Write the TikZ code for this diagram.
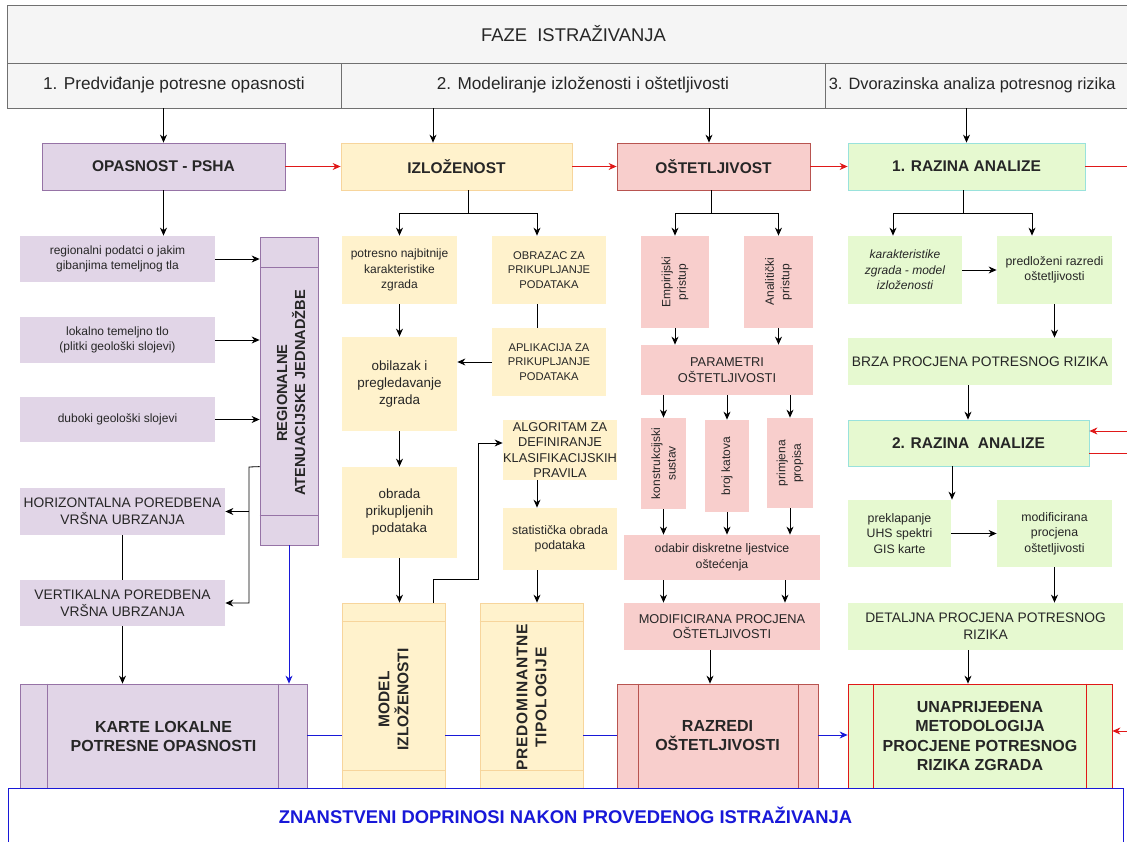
\documentclass[tikz,border=0pt]{standalone}
\usepackage{fontspec}
\setmainfont{Liberation Sans}
\usetikzlibrary{arrows.meta,calc}
\definecolor{hdrF}{HTML}{F5F5F5}
\definecolor{hdrD}{HTML}{707070}
\definecolor{purF}{HTML}{E1D5E7}
\definecolor{purD}{HTML}{9673A6}
\definecolor{yelF}{HTML}{FFF2CC}
\definecolor{yelD}{HTML}{F7D59C}
\definecolor{pnkF}{HTML}{F8CECC}
\definecolor{pnkD}{HTML}{B85450}
\definecolor{grnF}{HTML}{E6F9D0}
\definecolor{grnD}{HTML}{99E2DC}
\definecolor{redL}{HTML}{E01818}
\definecolor{bluL}{HTML}{1818D8}
\definecolor{txt}{HTML}{262626}
\newcommand{\bx}[7]{\node[box,#2,minimum width={(#5)-(#3)},minimum height={(#6)-(#4)}] (#1) at ({((#3)+(#5))/2},{((#4)+(#6))/2}) {#7};}
\tikzset{
  box/.style={inner sep=0pt, align=center, text=txt, line width=0.8pt, rectangle},
  hdr/.style={draw=hdrD, fill=hdrF},
  pur/.style={fill=purF}, purB/.style={fill=purF, draw=purD},
  yel/.style={fill=yelF}, yelB/.style={fill=yelF, draw=yelD},
  pnk/.style={fill=pnkF}, pnkB/.style={fill=pnkF, draw=pnkD},
  grn/.style={fill=grnF}, grnB/.style={fill=grnF, draw=grnD}, grnR/.style={fill=grnF, draw=redL},
  f105/.style={font=\fontsize{11.2}{14.5}\selectfont},
  f11/.style={font=\fontsize{12}{15.5}\selectfont},
  f115/.style={font=\fontsize{12.3}{15.5}\selectfont},
  f12/.style={font=\fontsize{12.8}{15.5}\selectfont},
  f125/.style={font=\fontsize{13.4}{17}\selectfont},
  f13/.style={font=\fontsize{13.8}{17}\selectfont},
  f15/.style={font=\fontsize{17.2}{20}\selectfont},
  f16/.style={font=\fontsize{18.4}{21}\selectfont},
  b14/.style={font=\bfseries\fontsize{15.5}{19}\selectfont},
  b16/.style={font=\bfseries\fontsize{16}{19}\selectfont},
  b15/.style={font=\bfseries\fontsize{16}{19.5}\selectfont},
  brot/.style={font=\bfseries\fontsize{14.6}{18}\selectfont},
  rot/.style={rotate=90, align=center, inner sep=0pt, text=txt},
  ln/.style={draw=black, line width=0.8pt},
  arr/.style={ln, -{Stealth[length=8pt,width=7pt]}},
  redln/.style={draw=redL, line width=0.8pt},
  redarr/.style={redln, -{Stealth[length=8pt,width=7pt]}},
  bluln/.style={draw=bluL, line width=0.8pt},
  bluarr/.style={bluln, -{Stealth[length=8pt,width=7pt]}},
}
\begin{document}
\begin{tikzpicture}[x=1pt,y=-1pt]
\useasboundingbox (0,0) rectangle (1127,842);
\clip (0,0) rectangle (1127,842);
\fill[white] (0,0) rectangle (1127,842);
% header
\bx{faze}{hdr,f16}{7}{5}{1140}{63}{FAZE\ \ ISTRAŽIVANJA}
\bx{ph1}{hdr,f15}{7}{63}{341}{108}{1. Predviđanje potresne opasnosti}
\bx{ph2}{hdr,f15}{341}{63}{825}{108}{2. Modeliranje izloženosti i oštetljivosti}
\bx{ph3}{hdr,f15}{825}{63}{1140}{108}{}
\node[font=\fontsize{16.4}{20}\selectfont, anchor=west, text=txt, inner sep=0pt] (ph3T) at ([xshift=4pt]ph3.west) {3. Dvorazinska analiza potresnog rizika};
% main row
\bx{opas}{purB,b14}{42}{143}{285}{190}{OPASNOST - PSHA}
\bx{izl}{yelB,b14}{341}{143}{572}{190}{IZLOŽENOST}
\bx{ost}{pnkB,b14}{617}{143}{810}{190}{OŠTETLJIVOST}
\bx{raz1}{grnB,b14}{848}{143}{1085}{190}{1. RAZINA ANALIZE}
% left column
\bx{reg}{pur,f11}{20}{236}{215}{282}{regionalni podatci o jakim\\gibanjima temeljnog tla}
\bx{lok}{pur,f11}{20}{317}{215}{363}{lokalno temeljno tlo\\(plitki geološki slojevi)}
\bx{dub}{pur,f11}{20}{397}{215}{442}{duboki geološki slojevi}
\bx{aten}{purB}{260}{237}{318}{545}{}
\draw[draw=purD, line width=0.8pt] ($(aten.north west)+(0,31)$) -- ($(aten.north east)+(0,31)$) ($(aten.south west)+(0,-30)$) -- ($(aten.south east)+(0,-30)$);
\node[rot, brot] (atenT) at ([xshift=2pt,yshift=-2pt]aten.center) {REGIONALNE\\ATENUACIJSKE JEDNADŽBE};
\bx{hor}{pur,f13}{20}{488}{225}{535}{HORIZONTALNA POREDBENA\\VRŠNA UBRZANJA}
\bx{ver}{pur,f13}{20}{580}{225}{626}{VERTIKALNA POREDBENA\\VRŠNA UBRZANJA}
\bx{karte}{purB,b16}{20}{684}{307}{788}{KARTE LOKALNE\\POTRESNE OPASNOSTI}
\draw[draw=purD, line width=0.8pt] ($(karte.north west)+(28,0)$) -- ($(karte.south west)+(28,0)$) ($(karte.north east)+(-29,0)$) -- ($(karte.south east)+(-29,0)$);
% middle column
\bx{potr}{yel,f11}{342}{236}{457}{304}{potresno najbitnije\\karakteristike\\zgrada}
\bx{obr}{yel,f105}{492}{236}{606}{304}{OBRAZAC ZA\\PRIKUPLJANJE\\PODATAKA}
\bx{obil}{yel,f125}{342}{337}{457}{431}{obilazak i\\pregledavanje\\zgrada}
\bx{apl}{yel,f105}{492}{328}{606}{396}{APLIKACIJA ZA\\PRIKUPLJANJE\\PODATAKA}
\bx{obrada}{yel,f125}{342}{467}{457}{558}{obrada\\prikupljenih\\podataka}
\bx{alg}{yel,f12}{503}{420}{617}{480}{ALGORITAM ZA\\DEFINIRANJE\\KLASIFIKACIJSKIH\\PRAVILA}
\bx{stat}{yel,f115}{503}{508}{617}{570}{statistička obrada\\podataka}
\bx{model}{yelB}{342}{603}{445}{788}{}
\draw[draw=yelD, line width=0.8pt] ($(model.north west)+(0,19)$) -- ($(model.north east)+(0,19)$) ($(model.south west)+(0,-18)$) -- ($(model.south east)+(0,-18)$);
\node[rot, font=\bfseries\fontsize{15.5}{19}\selectfont] (modelT) at ([yshift=-4pt]model.center) {MODEL\\IZLOŽENOSTI};
\bx{pred}{yelB}{480}{603}{583}{788}{}
\draw[draw=yelD, line width=0.8pt] ($(pred.north west)+(0,19)$) -- ($(pred.north east)+(0,19)$) ($(pred.south west)+(0,-18)$) -- ($(pred.south east)+(0,-18)$);
\node[rot, font=\bfseries\fontsize{15.5}{19}\selectfont\addfontfeature{LetterSpace=5}] (predT) at ([yshift=-2pt]pred.center) {PREDOMINANTNE\\TIPOLOGIJE};
% ostetljivost column
\bx{emp}{pnk}{641}{236}{709}{328}{}
\node[rot, f11] (empT) at (emp.center) {Empirijski\\pristup};
\bx{ana}{pnk}{744}{236}{813}{328}{}
\node[rot, f11] (anaT) at (ana.center) {Analitički\\pristup};
\bx{par}{pnk,f12}{641}{345}{813}{395}{PARAMETRI\\OŠTETLJIVOSTI}
\bx{kon}{pnk}{641}{418}{686}{509}{}
\node[rot, f11] (konT) at (kon.center) {konstrukcijski\\sustav};
\bx{broj}{pnk}{705}{420}{749}{512}{}
\node[rot, f11] (brojT) at (broj.center) {broj katova};
\bx{prim}{pnk}{767}{418}{813}{508}{}
\node[rot, f11] (primT) at (prim.center) {primjena\\propisa};
\bx{odab}{pnk,f115}{624}{535}{820}{580}{odabir diskretne ljestvice\\oštećenja}
\bx{modo}{pnk,f12}{624}{603}{820}{650}{MODIFICIRANA PROCJENA\\OŠTETLJIVOSTI}
\bx{razr}{pnkB,b16}{617}{684}{818}{788}{RAZREDI\\OŠTETLJIVOSTI}
\draw[draw=pnkD, line width=0.8pt] ($(razr.north west)+(22,0)$) -- ($(razr.south west)+(22,0)$) ($(razr.north east)+(-20,0)$) -- ($(razr.south east)+(-20,0)$);
% right column
\bx{kar}{grn,font=\itshape\fontsize{12}{15.5}\selectfont}{848}{236}{962}{304}{karakteristike\\zgrada - model\\izloženosti}
\bx{prd}{grn,f115}{997}{236}{1112}{304}{predloženi razredi\\oštetljivosti}
\bx{brza}{grn,f13}{848}{338}{1112}{385}{BRZA PROCJENA POTRESNOG RIZIKA}
\bx{raz2}{grnB,b14}{848}{420}{1089}{466}{2. RAZINA\ \ ANALIZE}
\bx{prek}{grn,f115}{848}{500}{951}{567}{preklapanje\\UHS spektri\\GIS karte}
\bx{modr}{grn,f115}{997}{500}{1112}{567}{modificirana\\procjena\\oštetljivosti}
\bx{det}{grn,f13}{848}{603}{1123}{650}{DETALJNA PROCJENA POTRESNOG\\RIZIKA}
\bx{unap}{grnR,b15}{848}{684}{1112}{788}{UNAPRIJEĐENA\\METODOLOGIJA\\PROCJENE POTRESNOG\\RIZIKA ZGRADA}
\draw[draw=redL, line width=0.8pt] ($(unap.north west)+(26,0)$) -- ($(unap.south west)+(26,0)$) ($(unap.north east)+(-26,0)$) -- ($(unap.south east)+(-26,0)$);
% helper coordinates
\coordinate (x433) at (433,0);
\coordinate (x537) at (537,0);
\coordinate (x709) at (709,0);
\coordinate (x710) at (710,0);
\coordinate (x785) at (785,0);
\coordinate (x893) at (893,0);
\coordinate (x952) at (952,0);
\coordinate (x968) at (968,0);
\coordinate (x1032) at (1032,0);
\coordinate (edge) at (1140,0);
\coordinate (yb) at (0,735);
% phase arrows
\draw[arr] (opas.north |- ph1.south) -- (opas.north);
\draw[arr] (x433 |- ph2.south) -- (x433 |- izl.north);
\draw[arr] (x709 |- ph2.south) -- (x709 |- ost.north);
\draw[arr] (raz1.north |- ph3.south) -- (raz1.north);
% red main row
\draw[redarr] (opas.east) -- (izl.west);
\draw[redarr] (izl.east) -- (ost.west);
\draw[redarr] (ost.east) -- (raz1.west);
\draw[redln] (raz1.east) -- (raz1.east -| edge);
% left connectors
\draw[arr] (opas.south) -- (opas.south |- reg.north);
\draw[arr] (reg.east) -- (reg.east -| aten.west);
\draw[arr] (lok.east) -- (lok.east -| aten.west);
\draw[arr] (dub.east) -- (dub.east -| aten.west);
\coordinate (aj) at ($(aten.north west)+(0,230)$);
\coordinate (bus) at (249,467);
\draw[arr] (aj) -- (bus) |- (ver.east);
\draw[arr] (bus |- hor.east) -- (hor.east);
\draw[ln] (hor.south) -- (ver.north);
\draw[arr] (ver.south) -- (ver.south |- karte.north);
\draw[bluarr] (aten.south) -- (aten.south |- karte.north);
% middle connectors
\coordinate (izb) at (468,213);
\draw[ln] (izl.south -| izb) -- (izb);
\draw[arr] (izb) -| (potr.north);
\draw[arr] (izb) -| (x537 |- obr.north);
\draw[ln] (x537 |- obr.south) -- (x537 |- apl.north);
\draw[arr] (apl.west) -- (apl.west -| obil.east);
\draw[arr] (potr.south) -- (obil.north);
\draw[arr] (obil.south) -- (obrada.north);
\draw[arr] (obrada.south) -- (obrada.south |- model.north);
\draw[arr] (x537 |- alg.south) -- (x537 |- stat.north);
\draw[arr] (x537 |- stat.south) -- (x537 |- pred.north);
\coordinate (m1) at (433,579);
\coordinate (m2) at (478,443);
\draw[arr] (x433 |- model.north) -- (m1) -| (m2) -- (m2 -| alg.west);
% ostetljivost connectors
\coordinate (ob) at (711,213);
\draw[ln] (ost.south -| ob) -- (ob);
\draw[arr] (ob) -| (emp.north);
\draw[arr] (ob) -| (ana.north);
\draw[arr] (emp.south) -- (emp.south |- par.north);
\draw[arr] (ana.south) -- (ana.south |- par.north);
\draw[arr] (par.south -| kon.north) -- (kon.north);
\draw[arr] (par.south -| broj.north) -- (broj.north);
\draw[arr] (par.south -| prim.north) -- (prim.north);
\draw[arr] (kon.south) -- (kon.south |- odab.north);
\draw[arr] (broj.south) -- (broj.south |- odab.north);
\draw[arr] (prim.south) -- (prim.south |- odab.north);
\draw[arr] (odab.south -| kon.south) -- (modo.north -| kon.south);
\draw[arr] (x785 |- odab.south) -- (x785 |- modo.north);
\draw[arr] (x710 |- modo.south) -- (x710 |- razr.north);
% right connectors
\coordinate (rb) at (963,213);
\draw[ln] (raz1.south -| rb) -- (rb);
\draw[arr] (rb) -| (x893 |- kar.north);
\draw[arr] (rb) -| (x1032 |- prd.north);
\draw[arr] (kar.east) -- (prd.west);
\draw[arr] (prd.south) -- (prd.south |- brza.north);
\draw[arr] (x968 |- brza.south) -- (x968 |- raz2.north);
\draw[arr] (x952 |- raz2.south) -- (x952 |- prek.north);
\draw[arr] (prek.east) -- (modr.west);
\draw[arr] (modr.south) -- (modr.south |- det.north);
\draw[arr] (x968 |- det.south) -- (x968 |- unap.north);
\coordinate (r2a) at (1140,431);
\coordinate (r2b) at (1140,453);
\coordinate (r3) at (1140,731);
\draw[redarr] (r2a) -- (r2a -| raz2.east);
\draw[redln] (r2b -| raz2.east) -- (r2b);
\draw[redarr] (r3) -- (r3 -| unap.east);
% blue bottom line
\draw[bluln] (karte.east |- yb) -- (model.west |- yb);
\draw[bluln] (model.east |- yb) -- (pred.west |- yb);
\draw[bluln] (pred.east |- yb) -- (razr.west |- yb);
\draw[bluarr] (razr.east |- yb) -- (unap.west |- yb);
% bottom box
\bx{znan}{draw=bluL, fill=white, font=\bfseries\fontsize{18.4}{21}\selectfont, text=bluL}{8}{788}{1123}{843}{ZNANSTVENI DOPRINOSI NAKON PROVEDENOG ISTRAŽIVANJA}
\end{tikzpicture}
\end{document}
